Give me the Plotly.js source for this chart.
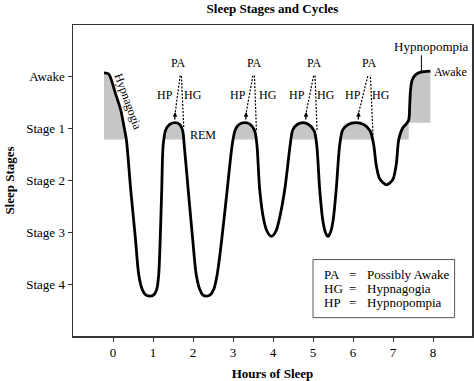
<!DOCTYPE html>
<html><head><meta charset="utf-8">
<script src="https://cdn.plot.ly/plotly-3.0.1.min.js"></script>
<style>html,body{margin:0;padding:0;background:#fff}</style>
</head><body><div id="chart" style="width:474px;height:381px"></div>
<script>
// Sleep curve: hours of sleep vs. stage depth (0 = Awake, 4 = Stage 4)
const hours = [-0.225,-0.108,0.06,0.193,0.275,0.335,0.443,0.563,0.643,0.73,0.818,0.918,1.018,1.093,1.143,1.18,1.218,1.255,
  1.318,1.418,1.543,1.668,1.743,1.78,
  1.88,1.993,2.08,2.168,2.243,2.335,2.43,2.518,2.605,2.718,2.855,2.98,
  3.055,3.155,3.293,3.43,3.543,3.598,
  3.668,3.768,3.855,3.96,4.068,4.155,4.293,4.43,
  4.493,4.605,4.75,4.893,5.03,5.093,
  5.168,5.243,5.305,5.375,5.443,5.505,5.58,5.668,
  5.743,5.88,6.068,6.268,6.43,6.518,
  6.58,6.668,6.835,6.993,7.08,7.143,
  7.243,7.33,7.393,7.418,7.438,7.48,7.568,7.693,7.935];
const stage = [-0.077,-0.056,0.319,0.64,0.962,1.217,2.179,3.14,3.813,4.1,4.208,4.231,4.208,4.1,3.813,3.14,2.179,1.313,
  1.025,0.919,0.885,0.919,1.044,1.313,
  2.179,3.14,3.813,4.1,4.208,4.231,4.208,4.1,3.813,3.14,2.179,1.313,
  1.025,0.919,0.885,0.919,1.044,1.313,
  2.179,2.756,2.987,3.077,2.987,2.756,2.179,1.313,
  1.025,0.919,0.885,0.919,1.044,1.313,
  2.179,2.756,2.987,3.077,2.987,2.756,2.179,1.313,
  1.025,0.919,0.885,0.919,1.044,1.313,
  1.698,1.967,2.083,1.987,1.698,1.217,
  0.987,0.91,0.833,0.544,0.256,0.063,-0.042,-0.09,-0.11];

const stageTicks = [0,1,2,3,4];
const stageLabels = ['Awake','Stage 1','Stage 2','Stage 3','Stage 4'];
const hourTicks = [0,1,2,3,4,5,6,7,8];

// shaded regions: [from hour, to hour, base stage level]
const shadeFrom = [-0.225,1.2,2.95,4.4,5.65,7.1,7.3];
const shadeTo   = [0.5,1.85,3.65,5.15,6.55,7.393,7.935];
const shadeBase = [1.21,1.21,1.21,1.21,1.21,1.21,0.885];

// REM peak annotations (hours / stage positions)
const paX = [1.625,3.525,5.042,6.4];
const hpX = [1.293,3.125,4.6,6.0];
const hgX = [2.0,3.875,5.335,6.71];
const arrowX = [1.555,3.33,4.83,6.143];
const arrowTailX = [1.543,3.318,4.818,6.13];
const dashATopX = [1.68,3.5,5.018,6.375];
const dashBTopX = [1.71,3.537,5.05,6.435];
const dashBBotX = [1.768,3.585,5.1,6.5];
const dashBBotY = [0.967,1.025,1.025,1.12];

const legendKeys = ['PA','HG','HP'];
const legendDefs = ['Possibly Awake','Hypnagogia','Hypnopompia'];

const FONT = '"Liberation Serif", "Times New Roman", serif';

function curveAt(h){
  for(let i=0;i<hours.length-1;i++){
    if(h>=hours[i] && h<=hours[i+1]){
      const t=(h-hours[i])/(hours[i+1]-hours[i]);
      return stage[i]+t*(stage[i+1]-stage[i]);
    }
  }
  return stage[stage.length-1];
}
const traces=[];
for(let k=0;k<shadeFrom.length;k++){
  const a=shadeFrom[k], b=shadeTo[k], base=shadeBase[k];
  const xs=[a], ys=[base];
  xs.push(a); ys.push(Math.min(curveAt(a),base));
  for(let i=0;i<hours.length;i++){
    if(hours[i]>a && hours[i]<b){xs.push(hours[i]); ys.push(Math.min(stage[i],base));}
  }
  xs.push(b); ys.push(Math.min(curveAt(b),base));
  xs.push(b); ys.push(base);
  xs.push(a); ys.push(base);
  traces.push({x:xs,y:ys,mode:'lines',fill:'toself',fillcolor:'#c6c6c6',line:{width:0},hoverinfo:'skip',showlegend:false});
}
traces.push({x:hours,y:stage,mode:'lines',line:{color:'#000',width:2.8,shape:'spline',smoothing:0.8},showlegend:false,hoverinfo:'skip'});

const shapes=[];
const annotations=[];
const dash={color:'#000',width:1.2,dash:'2px,1.5px'};
for(let k=0;k<paX.length;k++){
  shapes.push({type:'line',xref:'x',yref:'y',x0:arrowX[k]+0.003,y0:0.679,x1:dashATopX[k],y1:-0.033,line:dash});
  shapes.push({type:'line',xref:'x',yref:'y',x0:dashBBotX[k],y0:dashBBotY[k],x1:dashBTopX[k],y1:-0.033,line:dash});
  annotations.push({x:arrowX[k],y:0.679,ax:arrowTailX[k],ay:0.852,axref:'x',ayref:'y',xref:'x',yref:'y',text:'',showarrow:true,arrowhead:2,arrowsize:0.7,arrowwidth:1.3,arrowcolor:'#000'});
  annotations.push({x:paX[k],y:-0.258,text:'PA',showarrow:false,xref:'x',yref:'y',font:{family:FONT,size:12,color:'#000'}});
  annotations.push({x:hpX[k],y:0.352,text:'HP',showarrow:false,xref:'x',yref:'y',font:{family:FONT,size:12,color:'#000'}});
  annotations.push({x:hgX[k],y:0.352,text:'HG',showarrow:false,xref:'x',yref:'y',font:{family:FONT,size:12,color:'#000'}});
}
annotations.push({x:2.25,y:1.12,text:'REM',showarrow:false,xref:'x',yref:'y',font:{family:FONT,size:12,color:'#000'}});
annotations.push({x:0.375,y:0.467,text:'Hypnagogia',textangle:70,showarrow:false,xref:'x',yref:'y',font:{family:FONT,size:12,color:'#000'}});
annotations.push({x:7.96,y:-0.577,text:'Hypnopompia',showarrow:false,xref:'x',yref:'y',font:{family:FONT,size:13,color:'#000'}});
annotations.push({x:8.44,y:-0.096,text:'Awake',showarrow:false,xref:'x',yref:'y',font:{family:FONT,size:12,color:'#000'}});
shapes.push({type:'line',xref:'x',yref:'y',x0:7.71,y0:-0.417,x1:7.71,y1:-0.09,line:{color:'#000',width:1}});

// legend box
shapes.push({type:'rect',xref:'x',yref:'y',x0:5.0,x1:8.54,y0:3.525,y1:4.646,line:{color:'#555',width:1},fillcolor:'rgba(0,0,0,0)'});
const legY=[3.813,4.088,4.358];
for(let k=0;k<legendKeys.length;k++){
  annotations.push({x:5.235,y:legY[k],xanchor:'left',text:legendKeys[k],showarrow:false,xref:'x',yref:'y',font:{family:FONT,size:13,color:'#000'}});
  annotations.push({x:5.99,y:legY[k],text:'=',showarrow:false,xref:'x',yref:'y',font:{family:FONT,size:13,color:'#000'}});
  annotations.push({x:6.29,y:legY[k],xanchor:'left',text:legendDefs[k],showarrow:false,xref:'x',yref:'y',font:{family:FONT,size:13,color:'#000'}});
}

const layout={
  width:474,height:381,
  margin:{l:73,r:2,t:25,b:45},
  paper_bgcolor:'#fff',plot_bgcolor:'#fff',
  font:{family:FONT,color:'#000',size:13},
  title:{text:'<b>Sleep Stages and Cycles</b>',font:{family:FONT,size:13,color:'#000'},x:0.5,xref:'paper',y:0.978,yref:'container',yanchor:'middle'},
  xaxis:{range:[-1,8.975],tickvals:hourTicks,ticktext:hourTicks.map(String),ticks:'outside',ticklen:4,tickcolor:'#333',
    showgrid:false,zeroline:false,showline:true,mirror:true,linecolor:'#333',linewidth:1.5,
    tickfont:{family:FONT,size:13,color:'#000'},
    title:{text:'<b>Hours of Sleep</b>',font:{family:FONT,size:13,color:'#000'},standoff:10}},
  yaxis:{range:[5,-1],tickvals:stageTicks,ticktext:stageLabels,ticks:'outside',ticklen:4,tickcolor:'#333',
    showgrid:false,zeroline:false,showline:true,mirror:true,linecolor:'#333',linewidth:1.5,
    tickfont:{family:FONT,size:13,color:'#000'},
    title:{text:'<b>Sleep Stages</b>',font:{family:FONT,size:13,color:'#000'},standoff:8}},
  shapes:shapes,annotations:annotations,showlegend:false
};
Plotly.newPlot('chart',traces,layout,{displayModeBar:false,staticPlot:true});
</script></body></html>
